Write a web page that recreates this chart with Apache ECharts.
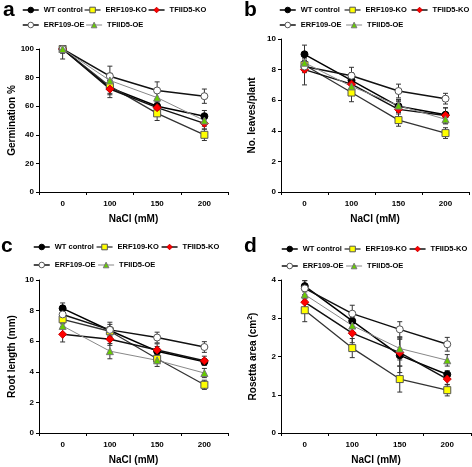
<!DOCTYPE html>
<html>
<head>
<meta charset="utf-8">
<script src="https://cdn.jsdelivr.net/npm/echarts@6/dist/echarts.min.js"></script>
<style>
html,body{margin:0;padding:0;background:#fff;}
#chart{width:472px;height:467px;}
</style>
</head>
<body>
<div id="chart"></div>
<script>
// ---- data ----
const categories = ['0', '100', '150', '200'];
const seriesNames = ['WT control', 'ERF109-KO', 'TFIID5-KO', 'ERF109-OE', 'TFIID5-OE'];

// panel a: Germination %
const germWT   = [100, 73, 60, 53];
const germKO   = [100, 74, 55, 40];
const germTKO  = [100, 72, 59, 48];
const germOE   = [100, 81, 71, 67];
const germTOE  = [100, 78, 66, 50];
const germErrWT  = [7, 5, 3, 4];
const germErrKO  = [2, 5, 5, 4];
const germErrTKO = [3, 6, 4, 4];
const germErrOE  = [2, 7, 6, 5];
const germErrTOE = [2, 5, 4, 4];

// panel b: No. leaves/plant
const leafWT  = [9.0, 7.3, 5.6, 5.05];
const leafKO  = [8.3, 6.5, 4.7, 3.85];
const leafTKO = [8.0, 7.05, 5.4, 5.0];
const leafOE  = [8.2, 7.6, 6.6, 6.1];
const leafTOE = [8.45, 6.9, 5.65, 4.75];
const leafErrWT  = [0.6, 0.5, 0.4, 0.45];
const leafErrKO  = [0.4, 0.6, 0.4, 0.35];
const leafErrTKO = [1.0, 0.5, 0.5, 0.5];
const leafErrOE  = [0.4, 0.55, 0.45, 0.35];
const leafErrTOE = [0.4, 0.4, 0.4, 0.3];

// panel c: Root length (mm)
const rootWT  = [8.15, 6.7, 5.35, 4.65];
const rootKO  = [7.43, 6.65, 4.85, 3.15];
const rootTKO = [6.45, 6.13, 5.43, 4.72];
const rootOE  = [7.75, 6.74, 6.24, 5.62];
const rootTOE = [7.0, 5.35, 4.75, 3.92];
const rootErrWT  = [0.35, 0.4, 0.3, 0.2];
const rootErrKO  = [0.3, 0.3, 0.3, 0.3];
const rootErrTKO = [0.5, 0.4, 0.4, 0.3];
const rootErrOE  = [0.3, 0.5, 0.35, 0.35];
const rootErrTOE = [0.2, 0.5, 0.4, 0.3];

// panel d: Rosetta area (cm2)
const roseWT  = [3.84, 2.93, 2.03, 1.53];
const roseKO  = [3.21, 2.22, 1.41, 1.12];
const roseTKO = [3.42, 2.61, 2.1, 1.41];
const roseOE  = [3.78, 3.12, 2.71, 2.32];
const roseTOE = [3.62, 2.81, 2.21, 1.9];
const roseErrWT  = [0.15, 0.2, 0.45, 0.1];
const roseErrKO  = [0.3, 0.25, 0.34, 0.15];
const roseErrTKO = [0.2, 0.25, 0.35, 0.15];
const roseErrOE  = [0.2, 0.22, 0.2, 0.18];
const roseErrTOE = [0.15, 0.2, 0.3, 0.15];

// ---- styles ----
const FONT = 'Liberation Sans, Arial, sans-serif';
const seriesStyle = [
  {symbol: 'circle', size: 7, color: '#000', border: '#000', line: '#000', lw: 1.5},
  {symbol: 'rect', size: 7, color: '#FFFF00', border: '#555', line: '#333', lw: 1.3},
  {symbol: 'diamond', size: 8, color: '#FF0000', border: '#CC0000', line: '#111', lw: 1.5},
  {symbol: 'circle', size: 7, color: '#FFFFFF', border: '#555', line: '#111', lw: 1.5},
  {symbol: 'triangle', size: 7, color: '#66CC00', border: '#777', line: '#888', lw: 1}
];

const panels = [
  {letter: 'a', vals: [germWT, germKO, germTKO, germOE, germTOE],
   errs: [germErrWT, germErrKO, germErrTKO, germErrOE, germErrTOE],
   min: 0, max: 100, interval: 20, name: 'Germination %',
   grid: {left: 39, top: 49, width: 189, height: 143}, nameGap: 22,
   letterPos: [3, 0], leg1: [22, 6], leg2: [22, 21], legGap: 1},
  {letter: 'b', vals: [leafWT, leafKO, leafTKO, leafOE, leafTOE],
   errs: [leafErrWT, leafErrKO, leafErrTKO, leafErrOE, leafErrTOE],
   min: 0, max: 10, interval: 2, name: 'No. leaves/plant',
   grid: {left: 281, top: 39, width: 188, height: 153}, nameGap: 24,
   letterPos: [244, 0], leg1: [279, 6], leg2: [279, 21], legGap: 4},
  {letter: 'c', vals: [rootWT, rootKO, rootTKO, rootOE, rootTOE],
   errs: [rootErrWT, rootErrKO, rootErrTKO, rootErrOE, rootErrTOE],
   min: 0, max: 10, interval: 2, name: 'Root length (mm)',
   grid: {left: 39, top: 280, width: 189, height: 153}, nameGap: 22,
   letterPos: [1, 236], leg1: [33, 243], leg2: [33, 261], legGap: 2},
  {letter: 'd', vals: [roseWT, roseKO, roseTKO, roseOE, roseTOE],
   errs: [roseErrWT, roseErrKO, roseErrTKO, roseErrOE, roseErrTOE],
   min: 0, max: 4, interval: 1, name: 'Rosetta area (cm{sup|2})',
   grid: {left: 281, top: 280, width: 190, height: 153}, nameGap: 22,
   letterPos: [244, 236], leg1: [281, 245], leg2: [281, 262], legGap: 2}
];

const grids = [], xAxes = [], yAxes = [], series = [], legends = [], graphics = [];
const axisLabelStyle = {fontSize: 8, fontWeight: 'bold', color: '#000', fontFamily: FONT};

function legendItem(s) {
  const st = seriesStyle[s];
  return {
    name: seriesNames[s],
    itemStyle: {color: st.color, borderColor: st.border, borderWidth: 1},
    lineStyle: {color: st.line, width: st.lw}
  };
}

panels.forEach((p, i) => {
  grids.push(Object.assign({containLabel: false}, p.grid));
  xAxes.push({
    type: 'category', gridIndex: i, data: categories, boundaryGap: true,
    name: 'NaCl (mM)', nameLocation: 'middle', nameGap: 22,
    nameTextStyle: {fontSize: 10, fontWeight: 'bold', color: '#000', fontFamily: FONT},
    axisLine: {lineStyle: {color: '#000', width: 1}},
    axisTick: {show: true, alignWithLabel: false, length: 3, inside: false, lineStyle: {color: '#000'}},
    axisLabel: Object.assign({margin: 8}, axisLabelStyle),
    splitLine: {show: false}
  });
  yAxes.push({
    type: 'value', gridIndex: i, min: p.min, max: p.max, interval: p.interval,
    name: p.name, nameLocation: 'middle', nameGap: p.nameGap, nameRotate: 90,
    nameTextStyle: {fontSize: 10, fontWeight: 'bold', color: '#000', fontFamily: FONT,
      rich: {sup: {fontSize: 7, fontWeight: 'bold', verticalAlign: 'top', padding: [0, 0, 5, 0], fontFamily: FONT}}},
    axisLine: {show: true, lineStyle: {color: '#000', width: 1}},
    axisTick: {show: true, length: 3, lineStyle: {color: '#000'}},
    axisLabel: Object.assign({margin: 5}, axisLabelStyle),
    splitLine: {show: false}
  });
  p.vals.forEach((v, s) => {
    const st = seriesStyle[s];
    series.push({
      type: 'line', name: seriesNames[s], xAxisIndex: i, yAxisIndex: i, data: v,
      z: 4, symbol: st.symbol, symbolSize: st.size, showAllSymbol: true,
      lineStyle: {color: st.line, width: st.lw},
      itemStyle: {color: st.color, borderColor: st.border, borderWidth: 1},
      emphasis: {disabled: true}, animation: false
    });
  });
  p.vals.forEach((v, s) => {
    const errs = p.errs[s];
    series.push({
      type: 'custom', name: seriesNames[s] + ' error', xAxisIndex: i, yAxisIndex: i,
      z: 3, clip: true, silent: true,
      data: v.map((y, k) => [k, y - errs[k], y + errs[k]]),
      renderItem: function (params, api) {
        const x = api.value(0);
        const lo = api.coord([x, api.value(1)]);
        const hi = api.coord([x, api.value(2)]);
        const w = 2.5;
        const style = {stroke: '#333', lineWidth: 1};
        return {type: 'group', children: [
          {type: 'line', shape: {x1: lo[0], y1: lo[1], x2: hi[0], y2: hi[1]}, style: style},
          {type: 'line', shape: {x1: lo[0] - w, y1: lo[1], x2: lo[0] + w, y2: lo[1]}, style: style},
          {type: 'line', shape: {x1: hi[0] - w, y1: hi[1], x2: hi[0] + w, y2: hi[1]}, style: style}
        ]};
      }
    });
  });
  const legCommon = {
    orient: 'horizontal', itemWidth: 16, itemHeight: 7, itemGap: p.legGap, width: 240,
    textStyle: {fontSize: 7.5, fontWeight: 'bold', color: '#000', fontFamily: FONT},
    selectedMode: false, padding: 0
  };
  legends.push(Object.assign({}, legCommon, {left: p.leg1[0], top: p.leg1[1], data: [0, 1, 2].map(legendItem)}));
  legends.push(Object.assign({}, legCommon, {left: p.leg2[0], top: p.leg2[1], data: [3, 4].map(legendItem)}));
  graphics.push({type: 'text', left: p.letterPos[0], top: p.letterPos[1],
    style: {text: p.letter, fontSize: 21, fontWeight: 'bold', fill: '#000', fontFamily: FONT}});
});

const chart = echarts.init(document.getElementById('chart'), null, {renderer: 'canvas'});
chart.setOption({
  animation: false,
  backgroundColor: '#fff',
  grid: grids, xAxis: xAxes, yAxis: yAxes, series: series, legend: legends, graphic: graphics
});
</script>
</body>
</html>
